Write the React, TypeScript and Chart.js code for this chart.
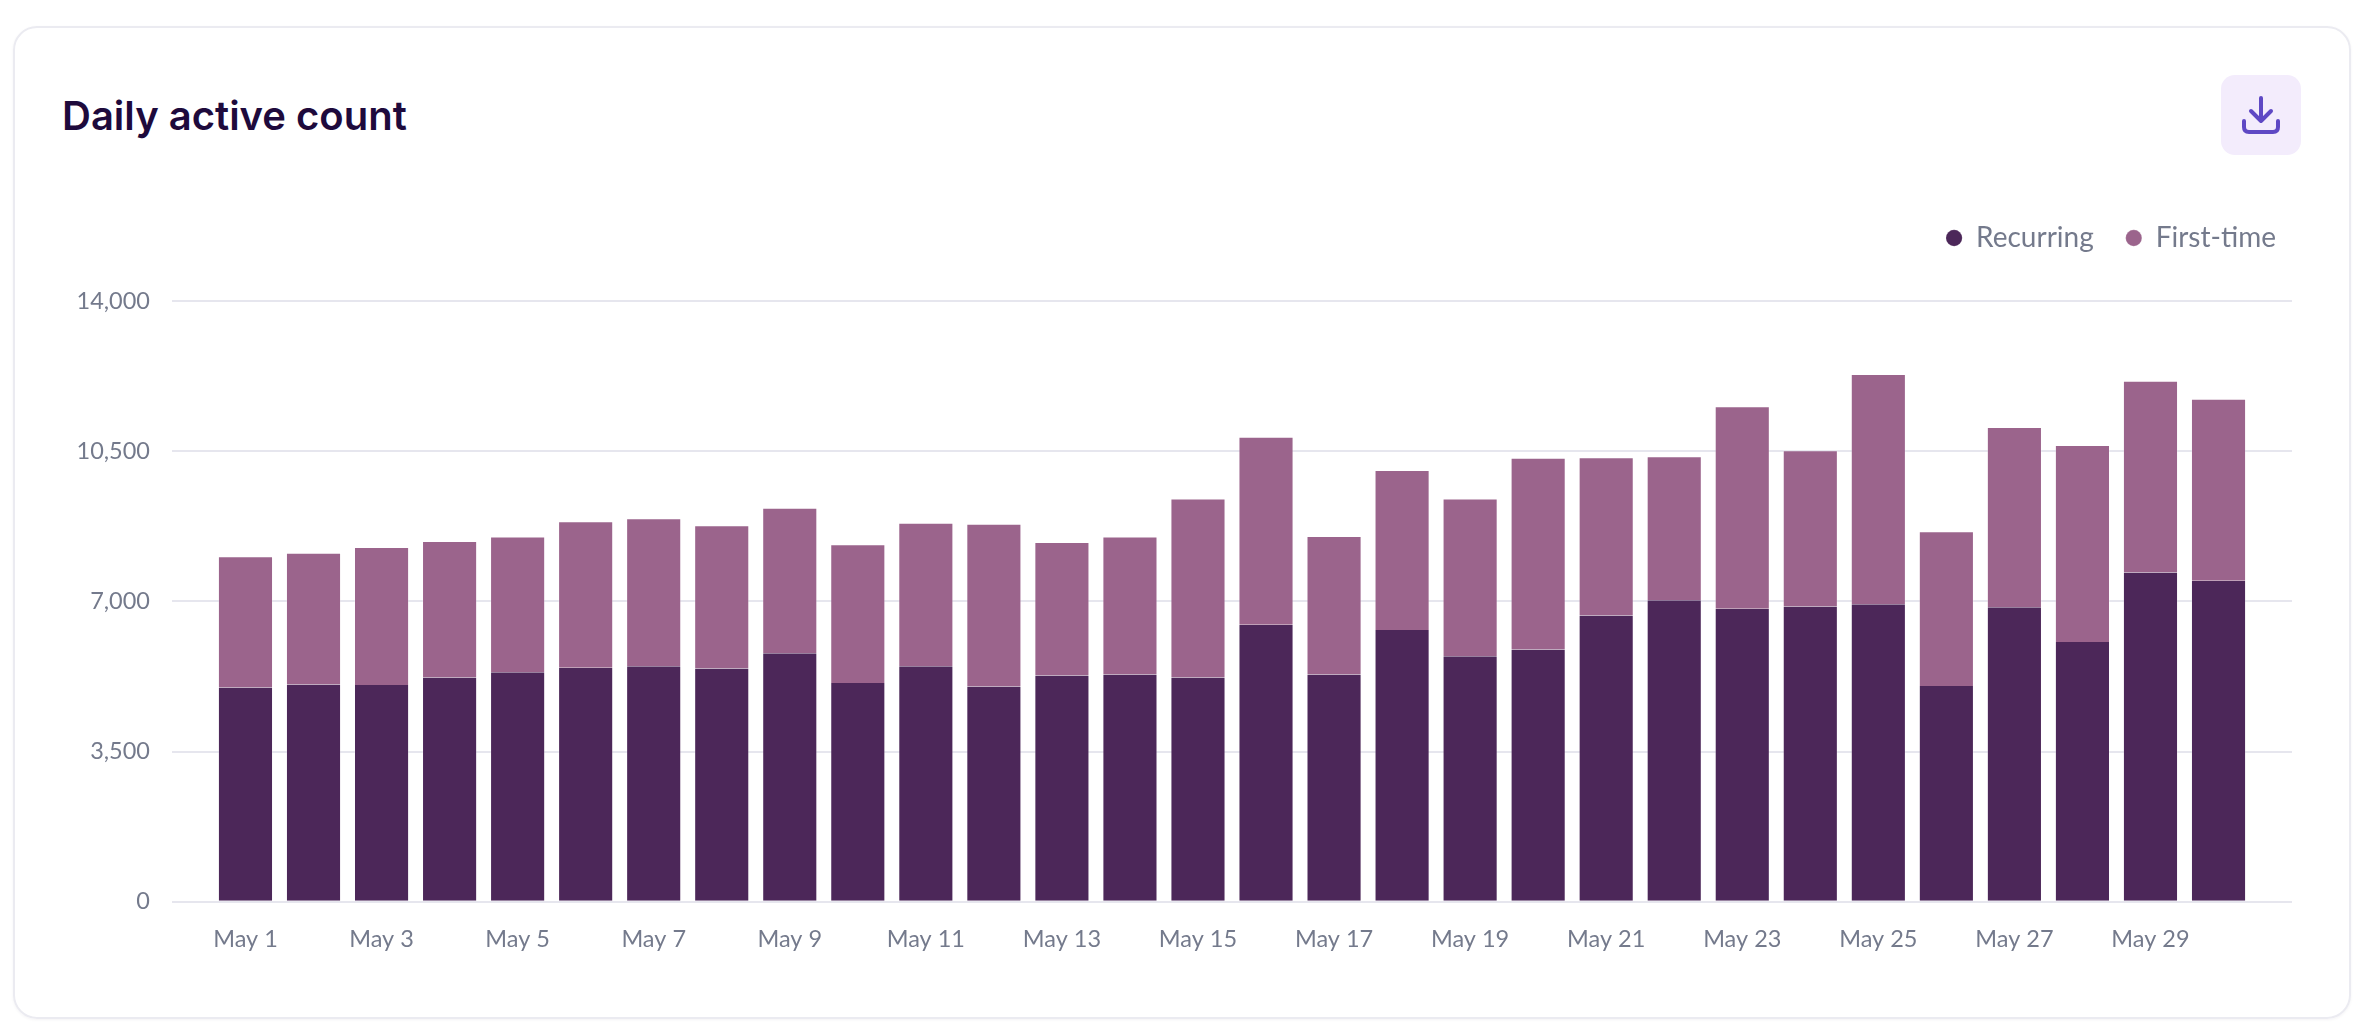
import { useEffect, useRef } from "react"
import { Chart, registerables } from "chart.js"

Chart.register(...registerables)

const days = [
  "May 1", "May 2", "May 3", "May 4", "May 5", "May 6", "May 7", "May 8", "May 9", "May 10",
  "May 11", "May 12", "May 13", "May 14", "May 15", "May 16", "May 17", "May 18", "May 19", "May 20",
  "May 21", "May 22", "May 23", "May 24", "May 25", "May 26", "May 27", "May 28", "May 29", "May 30",
]
const recurring = [
  4995, 5065, 5050, 5225, 5350, 5455, 5490, 5435, 5790, 5100,
  5490, 5015, 5275, 5295, 5225, 6455, 5295, 6335, 5720, 5880,
  6670, 7025, 6830, 6880, 6935, 5030, 6865, 6055, 7675, 7480,
]
const firstTime = [
  3055, 3070, 3215, 3180, 3160, 3410, 3445, 3340, 3390, 3230,
  3340, 3795, 3110, 3215, 4170, 4380, 3230, 3725, 3675, 4465,
  3690, 3355, 4715, 3640, 5365, 3605, 4200, 4590, 4465, 4240,
]

const GREY = "#747a8c"
const tickFont = { family: "Lato", size: 23.5, weight: 400 }

// extra room under the legend and a small nudge to the right of it
const legendSpacing = {
  id: "legendSpacing",
  beforeInit(chart: any) {
    const fit = chart.legend.fit
    chart.legend.fit = function () {
      fit.call(this)
      this.height += 39
    }
  },
  afterLayout(chart: any) {
    chart.legend.right += 16
  },
}

export default function App() {
  const canvasRef = useRef<HTMLCanvasElement>(null)

  useEffect(() => {
    if (!canvasRef.current) return
    const chart = new Chart(canvasRef.current, {
      type: "bar",
      data: {
        datasets: [
          {
            label: "Recurring",
            data: recurring.map((y, i) => ({ x: i + 1, y })),
            backgroundColor: "#4c2759",
            borderColor: "rgba(255,255,255,0.25)",
            borderWidth: { left: 1, right: 1, top: 0, bottom: 0 },
            barPercentage: 0.81,
            categoryPercentage: 1,
          },
          {
            label: "First-time",
            data: firstTime.map((y, i) => ({ x: i + 1, y })),
            backgroundColor: "#9b648c",
            borderColor: "rgba(255,255,255,0.25)",
            borderWidth: { left: 1, right: 1, top: 1, bottom: 0 },
            barPercentage: 0.81,
            categoryPercentage: 1,
          },
        ],
      },
      plugins: [legendSpacing],
      options: {
        animation: false,
        responsive: false,
        layout: { padding: { left: 0, right: 22, top: 0, bottom: 0 } },
        plugins: {
          tooltip: { enabled: false },
          legend: {
            position: "top",
            align: "end",
            labels: {
              usePointStyle: true,
              pointStyle: "circle",
              boxWidth: 16,
              boxHeight: 11.5,
              color: GREY,
              padding: 32,
              font: { family: "Lato", size: 28, weight: 400 },
            },
          },
        },
        scales: {
          x: {
            type: "linear",
            stacked: true,
            offset: false,
            // the grid runs a little past the first and last bar
            min: -0.08,
            max: 31.08,
            afterBuildTicks: (axis) => {
              axis.ticks = days.map((_, i) => ({ value: i + 1 })).filter((t) => t.value % 2 === 1)
            },
            grid: { display: false },
            border: { display: false },
            ticks: {
              color: GREY,
              font: tickFont,
              padding: 16,
              maxRotation: 0,
              autoSkip: false,
              callback: (v) => days[Number(v) - 1],
            },
          },
          y: {
            stacked: true,
            min: 0,
            max: 14000,
            afterFit: (axis) => {
              axis.width = 158
            },
            grid: { color: "#e6e6ee", lineWidth: 2, drawTicks: false },
            border: { display: false },
            ticks: {
              stepSize: 3500,
              color: GREY,
              font: tickFont,
              padding: 22,
              callback: (v) => Number(v).toLocaleString("en-US"),
            },
          },
        },
      },
    })
    return () => chart.destroy()
  }, [])

  return (
    <div style={{ position: "absolute", left: 0, top: 0, width: 2374, height: 1036, background: "#fff", overflow: "hidden" }}>
      <div
        style={{
          position: "absolute",
          left: 13,
          top: 26,
          width: 2338,
          height: 993,
          boxSizing: "border-box",
          border: "2px solid #ebebf1",
          borderRadius: 24,
          boxShadow: "0 1px 3px rgba(30,10,60,0.05)",
        }}
      />
      <div
        style={{
          position: "absolute",
          left: 62,
          top: 88,
          fontFamily: "Inter",
          fontWeight: 600,
          fontSize: 40,
          lineHeight: "56px",
          color: "#1e0a3c",
        }}
      >
        Daily active count
      </div>
      <div
        style={{
          position: "absolute",
          left: 2221,
          top: 75,
          width: 80,
          height: 80,
          borderRadius: 14,
          background: "#f3ecfc",
        }}
      >
        <svg width="80" height="80" viewBox="0 0 80 80" fill="none" stroke="#5e48c4" strokeWidth="4" strokeLinecap="round" strokeLinejoin="round">
          <path d="M40 23V46M30 36L40 46L50 36" />
          <path d="M23 46V52Q23 57 28 57H52Q57 57 57 52V46" />
        </svg>
      </div>
      <canvas ref={canvasRef} width={2300} height={778} style={{ position: "absolute", left: 14, top: 192 }} />
    </div>
  )
}
